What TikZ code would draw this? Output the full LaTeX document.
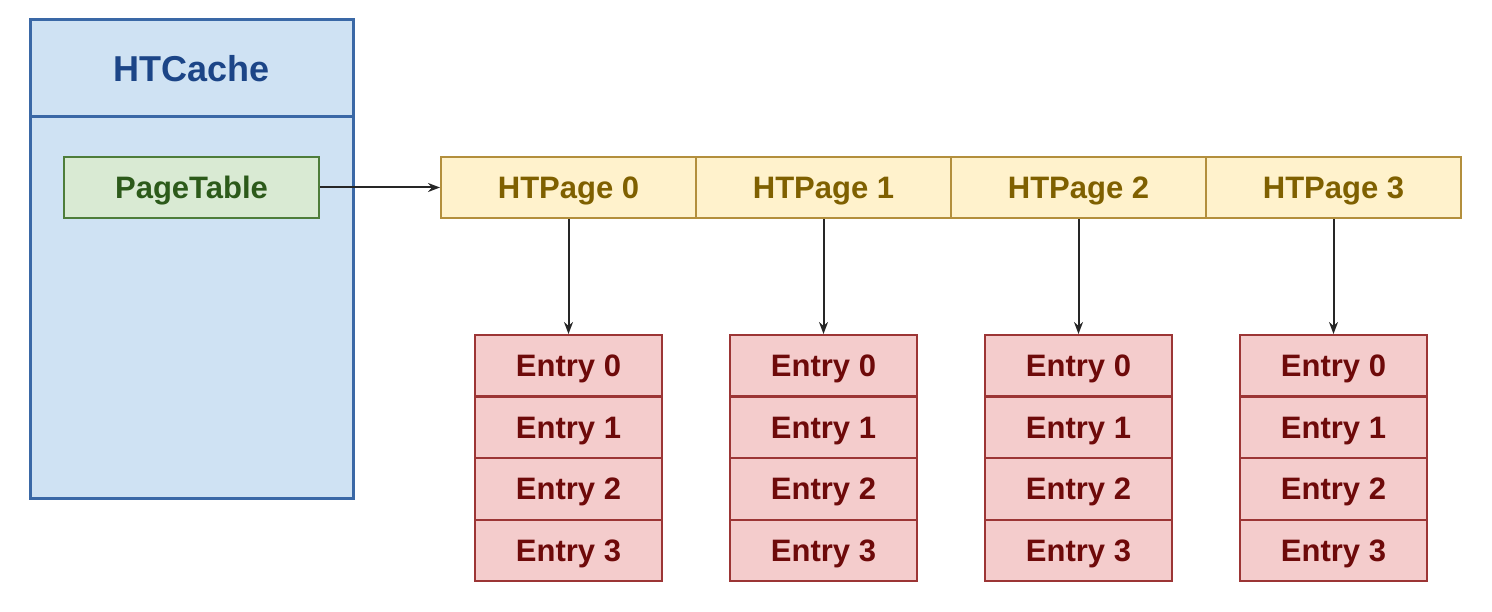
\documentclass[tikz,border=0pt]{standalone}
\usepackage{fontspec}
\setmainfont{Liberation Sans}
\usetikzlibrary{arrows.meta}
\definecolor{cacheFill}{HTML}{CFE2F3}
\definecolor{cacheLine}{HTML}{3A68A6}
\definecolor{cacheText}{HTML}{1C4587}
\definecolor{tabFill}{HTML}{D9EAD3}
\definecolor{tabLine}{HTML}{4E7D3A}
\definecolor{tabText}{HTML}{2C5A1A}
\definecolor{pageFill}{HTML}{FFF2CC}
\definecolor{pageLine}{HTML}{B38F3C}
\definecolor{pageText}{HTML}{7F6000}
\definecolor{entFill}{HTML}{F4CCCC}
\definecolor{entLine}{HTML}{9C3535}
\definecolor{entText}{HTML}{6E0A0A}
\begin{document}
\begin{tikzpicture}[x=1pt,y=-1pt,
  cell/.style={draw, rectangle, inner sep=0pt, text height=22.2pt, text depth=0pt,
    font=\fontsize{31}{36}\selectfont\bfseries},
  cachebox/.style={cell, draw=cacheLine, fill=cacheFill, line width=3pt, text=cacheText,
    minimum width=323},
  tabbox/.style={cell, draw=tabLine, fill=tabFill, line width=2pt, text=tabText,
    minimum width=255, minimum height=61},
  pagebox/.style={cell, draw=pageLine, fill=pageFill, line width=2pt, text=pageText,
    minimum width=255, minimum height=61},
  entbox/.style={cell, draw=entLine, fill=entFill, line width=2pt, text=entText,
    minimum width=187, minimum height=61.5},
  link/.style={draw=black!85, line width=2pt, -{Stealth[length=12pt,width=9pt]}}
]
\useasboundingbox (0,0) rectangle (1492,612);
% HTCache
\node[cachebox, minimum height=381] (cachebody) at (191.5,307.5) {};
\node[cachebox, minimum height=97, text height=25.8pt, font=\fontsize{36}{40}\selectfont\bfseries] (cachehead) at (191.5,68.5) {HTCache};
\node[tabbox] (pt) at (191.5,187.5) {PageTable};
% pages
\foreach \i/\x in {0/568.5,1/823.5,2/1078.5,3/1333.5}{
  \node[pagebox] (p\i) at (\x,187.5) {HTPage \i};
  \foreach \j/\y in {0/365.75,1/427.25,2/488.75,3/550.25}{
    \node[entbox] (e\i\j) at (\x,\y) {Entry \j};
  }
}
\draw[link] (pt.east) -- (p0.west);
\foreach \i in {0,1,2,3}{
  \draw[link] (p\i.south) -- (e\i0.north);
}
\end{tikzpicture}
\end{document}
